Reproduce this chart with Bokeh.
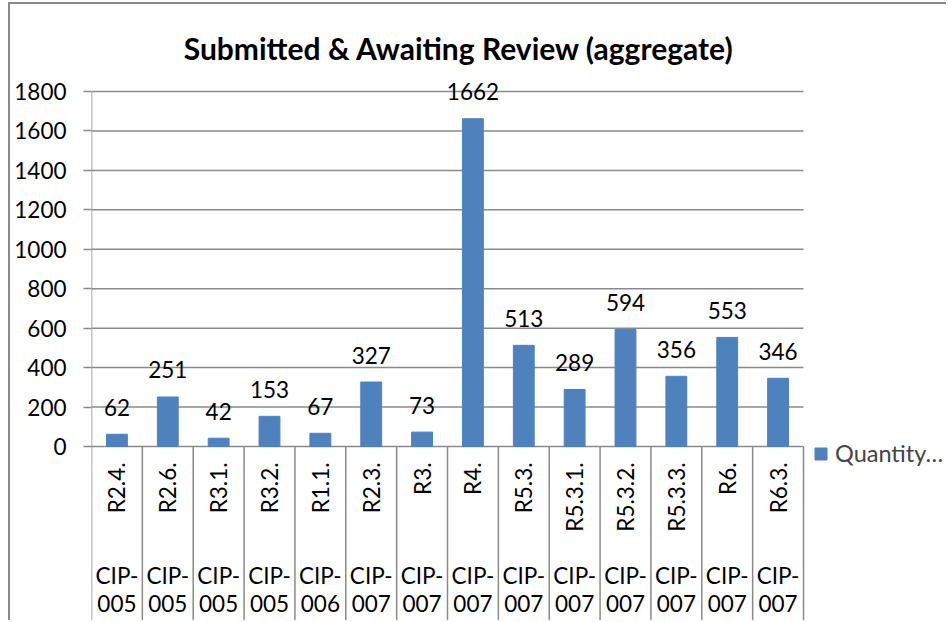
import math
from bokeh.plotting import figure
from bokeh.models import (Range1d, FixedTicker, ColumnDataSource, LabelSet, Label,
                          Legend, LegendItem)
from bokeh.core.properties import value
from bokeh.embed import file_html
from bokeh.resources import INLINE

# ---- data ----
standards = ["CIP-005", "CIP-005", "CIP-005", "CIP-005", "CIP-006", "CIP-007", "CIP-007",
             "CIP-007", "CIP-007", "CIP-007", "CIP-007", "CIP-007", "CIP-007", "CIP-007"]
requirements = ["R2.4.", "R2.6.", "R3.1.", "R3.2.", "R1.1.", "R2.3.", "R3.",
                "R4.", "R5.3.", "R5.3.1.", "R5.3.2.", "R5.3.3.", "R6.", "R6.3."]
quantity = [62, 251, 42, 153, 67, 327, 73, 1662, 513, 289, 594, 356, 553, 346]
y_ticks = [0, 200, 400, 600, 800, 1000, 1200, 1400, 1600, 1800]
title_text = "Submitted & Awaiting Review (aggregate)"
legend_text = "Quantity…"

FONT = "Lato"
GRID = "#8a8a8a"
BAR = "#4F81BD"

n = len(requirements)

# layout (canvas px)
W, H = 938, 618
frame_left = 81                 # canvas px of the value axis
cat_px = 712 / n                # px per category
top_px = 87                     # canvas px of the top tick
zero_px = 442                   # canvas px of value 0
y_top = y_ticks[-1]
units_per_px = y_top / (zero_px - top_px)
y_start = -(H - zero_px) * units_per_px
y_end = y_top + top_px * units_per_px
x_end = (W - frame_left) / cat_px

p = figure(width=W, height=H, output_backend="svg", toolbar_location=None,
           x_range=Range1d(0, x_end), y_range=Range1d(y_start, y_end),
           min_border_left=frame_left, min_border_right=0,
           min_border_top=0, min_border_bottom=0,
           x_axis_location=None)
p.styles = {"margin-left": "8px", "margin-top": "2px",
            "border-left": "2px solid #8a8a8a", "border-top": "2px solid #8a8a8a"}
p.outline_line_color = None
p.background_fill_color = "white"
p.border_fill_color = "white"
p.xgrid.grid_line_color = None
p.ygrid.grid_line_color = None

# y axis (ticks and labels; axis line drawn as a segment)
ax = p.yaxis[0]
ax.ticker = FixedTicker(ticks=y_ticks)
ax.axis_line_color = None
ax.major_tick_line_color = GRID
ax.major_tick_line_width = 1.5
ax.major_tick_out = 8
ax.major_tick_in = 0
ax.minor_tick_line_color = None
ax.major_label_text_font = FONT
ax.major_label_text_font_size = "22.5px"
ax.major_label_text_color = "black"
ax.major_label_standoff = 17

xc = [i + 0.5 for i in range(n)]
src = ColumnDataSource(dict(x=xc, req=requirements, std=standards, q=quantity,
                            std_top=[s.split("-")[0] + "-" for s in standards],
                            std_bot=[s.split("-")[1] for s in standards],
                            zero=[0] * n))

# gridlines
p.segment(x0=[0] * len(y_ticks), y0=y_ticks, x1=[n] * len(y_ticks), y1=y_ticks,
          line_color=GRID, line_width=1.5)
# value axis line + category dividers
p.segment(x0=[0], y0=[y_start], x1=[0], y1=[y_top], line_color=GRID, line_width=1.5)
p.segment(x0=[i + 1 for i in range(n)], y0=[0] * n, x1=[i + 1 for i in range(n)],
          y1=[y_start] * n, line_color=GRID, line_width=1.5)

bars = p.vbar(x="x", top="q", width=0.41, source=src, fill_color=BAR, line_color=BAR)

# category labels
p.text(x="x", y="zero", text="req", source=src, angle=math.pi / 2,
       text_align="right", text_baseline="middle", y_offset=16,
       text_font=value(FONT), text_font_size="22.5px", text_color="black")
p.text(x="x", y="zero", text="std_top", source=src,
       text_align="center", text_baseline="middle", y_offset=129,
       text_font=value(FONT), text_font_size="22.5px", text_color="black")
p.text(x="x", y="zero", text="std_bot", source=src,
       text_align="center", text_baseline="middle", y_offset=157,
       text_font=value(FONT), text_font_size="22.5px", text_color="black")

# data labels
p.add_layout(LabelSet(x="x", y="q", text="q", source=src, y_offset=27,
                      text_align="center", text_baseline="middle",
                      text_font=value(FONT), text_font_size="22.5px", text_color="black"))

# legend
legend = Legend(items=[LegendItem(label=legend_text, renderers=[bars])],
                location=(722, 155), padding=0, margin=0, spacing=0,
                glyph_width=15, glyph_height=15, label_standoff=7,
                label_text_font=FONT, label_text_font_size="23.5px",
                border_line_color=None, background_fill_alpha=0)
p.add_layout(legend)

# title
p.add_layout(Label(x=367.5, y=575, x_units="screen", y_units="screen", text=title_text,
                   text_align="center", text_baseline="middle",
                   text_font=FONT, text_font_size="30px", text_font_style="bold",
                   text_color="black"))

open("out.html", "w").write(file_html(p, INLINE))
